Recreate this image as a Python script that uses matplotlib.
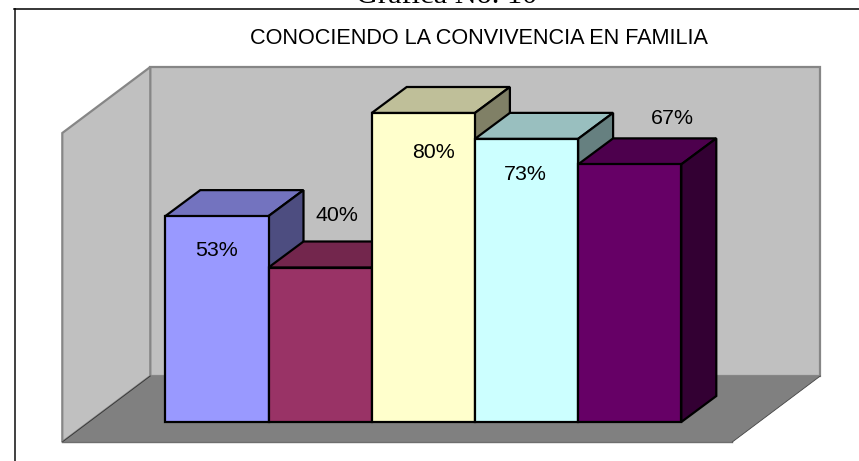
import matplotlib
matplotlib.use("Agg")
import matplotlib.pyplot as plt

# ---- data ----
categories = ["A", "B", "C", "D", "E"]
values = [53.3, 40, 80, 73.3, 66.7]
labels = ["53%", "40%", "80%", "73%", "67%"]
title = "CONOCIENDO LA CONVIVENCIA EN FAMILIA"
heading = "Gráfica No. 10"

# ---- style ----
front_colors = ["#9999FF", "#993366", "#FFFFCC", "#CCFFFF", "#660066"]
top_colors = ["#7373BF", "#73264D", "#BFBF99", "#99BFBF", "#4D004D"]
side_colors = ["#4D4D80", "#4D1A33", "#808066", "#668080", "#330033"]
label_offsets = [(0, -34.5), (17, 52), (10, -39.5), (-1, -35.5), (43, 46)]  # px from bar top centre

W, H = 859, 461
PX_X = 103.2      # px per category
PX_Y = 3.8625     # px per percent
X0 = 165.3        # px of left bar edge
Y0 = 422.0        # px of baseline


def set_xy(px, py):
    return (px - X0) / PX_X - 0.5, (Y0 - py) / PX_Y


fig = plt.figure(figsize=(W / 100, H / 100), dpi=100)
ax = fig.add_axes([0, 0, 1, 1])
ax.set_xlim(set_xy(0, 0)[0], set_xy(W, 0)[0])
ax.set_ylim(set_xy(0, H)[1], set_xy(0, 0)[1])
ax.axis("off")
plt.rcParams["font.family"] = ["Liberation Sans", "DejaVu Sans"]

bar_dx, bar_dy = 35 / PX_X, 26 / PX_Y
wall_dx, wall_dy = 88 / PX_X, 66 / PX_Y
ymax = max(values)
n = len(values)
front_gap = 20 / PX_Y
# floor front edge
fl_left = -0.5 - 103 / PX_X
fl_right = n - 0.5 + 51 / PX_X
fy = -front_gap
bx0, by0 = fl_left + wall_dx, fy + wall_dy
bx1 = fl_right + wall_dx

edge = "#868686"
LW = 1.6
# back wall
ax.fill([bx0, bx1, bx1, bx0], [by0, by0, by0 + ymax, by0 + ymax],
        fc="#C0C0C0", ec=edge, lw=LW, zorder=1, joinstyle="miter")
# left wall
ax.fill([fl_left, bx0, bx0, fl_left], [fy, by0, by0 + ymax, fy + ymax],
        fc="#C0C0C0", ec=edge, lw=LW, zorder=1, joinstyle="miter")
# floor
ax.fill([fl_left, fl_right, bx1, bx0], [fy, fy, by0, by0],
        fc="#808080", ec="none", zorder=1.5)
ax.plot([fl_left, bx0], [fy, by0], color="#333333", lw=0.6, zorder=1.6)
ax.plot([fl_left, fl_right], [fy, fy], color="#6E6E6E", lw=1.0, zorder=1.6)
ax.plot([fl_right, bx1], [fy, by0], color="#444444", lw=0.6, zorder=1.6)

# bars
for i, v in enumerate(values):
    z = 2 + i * 0.1
    l, r = i - 0.5, i + 0.5
    ax.fill([l, r, r + bar_dx, l + bar_dx], [v, v, v + bar_dy, v + bar_dy],
            fc=top_colors[i], ec="black", lw=LW, zorder=z, joinstyle="miter")
    ax.fill([r, r + bar_dx, r + bar_dx, r], [0, bar_dy, v + bar_dy, v],
            fc=side_colors[i], ec="black", lw=LW, zorder=z, joinstyle="miter")
    ax.bar(i, v, width=1, color=front_colors[i], edgecolor="black", lw=LW, zorder=z + 0.01)

for i, v in enumerate(values):
    ox, oy = label_offsets[i]
    ax.annotate(labels[i], (i, v), xytext=(ox * 0.72, oy * 0.72), textcoords="offset points",
                ha="center", va="center", fontsize=15.4, color="black",
                family=["Liberation Sans", "DejaVu Sans"], zorder=5)

# frame: top and left lines only
fig.add_artist(plt.Line2D([14.5 / W, 14.5 / W], [0, 1 - 9.5 / H], color="#404040", lw=1.4))
fig.add_artist(plt.Line2D([13.5 / W, 1], [1 - 9.5 / H, 1 - 9.5 / H], color="black", lw=1.1))

fig.text(478.5 / W, 1 - 38.5 / H, title, ha="center", va="center", fontsize=15.6,
         family=["Liberation Sans", "DejaVu Sans"], color="black")
fig.text(446.5 / W, 1 - 3 / H, heading, ha="center", va="baseline", fontsize=21.9,
         family=["Liberation Serif", "DejaVu Serif"], color="black")

fig.savefig("out.png", dpi=100, facecolor="white")
